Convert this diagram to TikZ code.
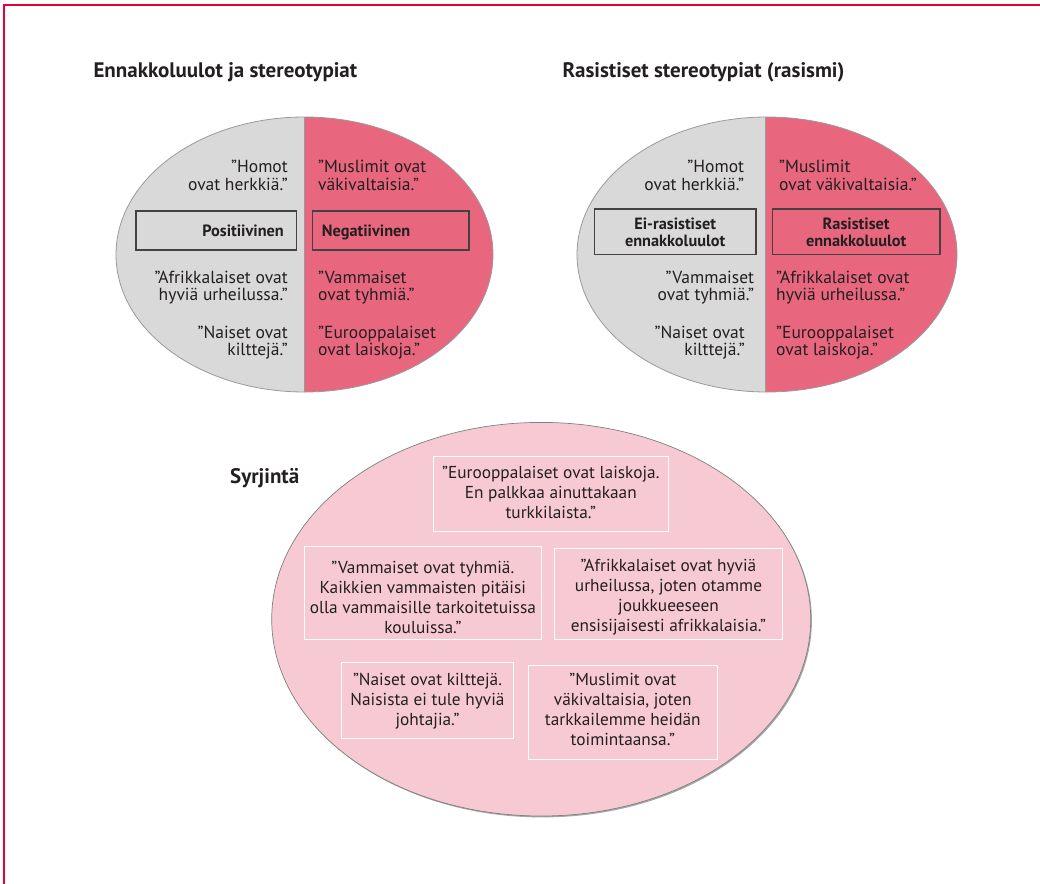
\documentclass[tikz,border=0pt]{standalone}
\usepackage{fontspec}
\setmainfont{PT Sans}
\definecolor{framered}{HTML}{E4003B}
\definecolor{hgray}{HTML}{D9D9D9}
\definecolor{hpink}{HTML}{E9677E}
\definecolor{lpink}{HTML}{F7CAD3}
\definecolor{txt}{HTML}{231F20}
\definecolor{outl}{HTML}{9A9A9A}
\newcommand{\qlines}[2]{\begin{tabular}[t]{@{}#1@{}}#2\end{tabular}}
\begin{document}
\begin{tikzpicture}[x=1pt,y=-1pt,
  heading/.style={font=\bfseries\fontsize{21}{22}\selectfont, anchor=base west, inner sep=0, text=txt},
  q/.style={font=\fontsize{17.5}{16.7}\selectfont, inner sep=0, text=txt},
  qr/.style={q, anchor=base east},
  ql/.style={q, anchor=base west},
  labbox/.style={draw=txt!85, line width=1.1pt, inner sep=0},
  labtext/.style={font=\bfseries\fontsize{16.3}{16.7}\selectfont, inner sep=0, text=txt},
  dbox/.style={draw=white, line width=0.9pt, inner sep=0},
  dtext/.style={font=\fontsize{17.3}{20}\selectfont, anchor=base, inner sep=0, text=txt}]
\useasboundingbox (0,0) rectangle (1040,883);
% frame
\draw[framered, line width=1.6pt] (4,884) -- (4,5) -- (1041,5);

% titles
\node[heading] (t1) at (93.3,77) {Ennakkoluulot ja stereotypiat};
\node[heading] (t2) at (562.3,77) {Rasistiset stereotypiat (rasismi)};
\node[heading] (t3) at (230,483.3) {Syrjintä};

% ellipse 1
\begin{scope}
\clip (304.5,254.5) ellipse (188.5 and 137.5);
\fill[hgray] (110,110) rectangle (304,400);
\fill[hpink] (304,110) rectangle (500,400);
\draw[outl, line width=0.6pt] (304,110) -- (304,400);
\end{scope}
\draw[outl, line width=0.8pt] (304.5,254.5) ellipse (188.5 and 137.5);

% ellipse 2
\begin{scope}
\clip (767,254.5) ellipse (190 and 137.5);
\fill[hgray] (570,110) rectangle (765,400);
\fill[hpink] (765,110) rectangle (965,400);
\draw[outl, line width=0.6pt] (765,110) -- (765,400);
\end{scope}
\draw[outl, line width=0.8pt] (767,254.5) ellipse (190 and 137.5);

% ellipse 1 texts
\node[qr] (a1) at (288,172.7) {\qlines{r}{”Homot\\ovat herkkiä.”}};
\node[qr] (a2) at (288,283.3) {\qlines{r}{”Afrikkalaiset ovat\\hyviä urheilussa.”}};
\node[qr] (a3) at (288,338.3) {\qlines{r}{”Naiset ovat\\kilttejä.”}};
\node[ql] (a4) at (318,172.7) {\qlines{l}{”Muslimit ovat\\väkivaltaisia.”}};
\node[ql] (a5) at (318,283.3) {\qlines{l}{”Vammaiset\\ovat tyhmiä.”}};
\node[ql] (a6) at (318,338.3) {\qlines{l}{”Eurooppalaiset\\ovat laiskoja.”}};
\node[labbox, minimum width=160.7pt, minimum height=39pt] (pos) at (216.35,230.5) {};
\node[labtext, anchor=base east] (post) at (284,236) {Positiivinen};
\node[labbox, minimum width=156.7pt, minimum height=39pt] (neg) at (390.65,230.5) {};
\node[labtext, anchor=base west] (negt) at (321.7,236) {Negatiivinen};

% ellipse 2 texts
\node[qr] (c1) at (744.3,172.7) {\qlines{r}{”Homot\\ovat herkkiä.”}};
\node[qr] (c2) at (754.3,283.3) {\qlines{r}{”Vammaiset\\ovat tyhmiä.”}};
\node[qr] (c3) at (745,338.3) {\qlines{r}{”Naiset ovat\\kilttejä.”}};
\node[ql] (c4) at (779,172.7) {\qlines{l}{”Muslimit\\ovat väkivaltaisia.”}};
\node[ql] (c5) at (776,283.3) {\qlines{l}{”Afrikkalaiset ovat\\hyviä urheilussa.”}};
\node[ql] (c6) at (776,338.3) {\qlines{l}{”Eurooppalaiset\\ovat laiskoja.”}};
\node[labbox, minimum width=161.7pt, minimum height=45.3pt] (eir) at (675.15,231.65) {};
\node[labtext, anchor=base] (eirt) at (675.15,229.3) {\qlines{c}{Ei-rasistiset\\ennakkoluulot}};
\node[labbox, minimum width=167.7pt, minimum height=45.3pt] (ras) at (856.15,231.65) {};
\node[labtext, anchor=base] (rast) at (856.15,229.3) {\qlines{c}{Rasistiset\\ennakkoluulot}};

% bottom ellipse
\fill[black!35] (542.4,620.6) ellipse (269.5 and 196.8);
\fill[lpink] (541.2,619.2) ellipse (269.5 and 196.8);
\draw[black!50, line width=0.7pt] (541.2,619.2) ellipse (269.5 and 196.8);

\node[dbox, minimum width=235pt, minimum height=75pt] (b1) at (550.8,494.2) {};
\node[dtext] (d1) at (550.8,478.3) {\qlines{c}{”Eurooppalaiset ovat laiskoja.\\En palkkaa ainuttakaan\\turkkilaista.”}};
\node[dbox, minimum width=237.7pt, minimum height=92.3pt] (b2) at (422.85,592.85) {};
\node[dtext] (d2) at (422.85,573.3) {\qlines{c}{”Vammaiset ovat tyhmiä.\\Kaikkien vammaisten pitäisi\\olla vammaisille tarkoitetuissa\\kouluissa.”}};
\node[dbox, minimum width=228.4pt, minimum height=91pt] (b3) at (668.5,593.8) {};
\node[dtext] (d3) at (668.5,571.7) {\qlines{c}{”Afrikkalaiset ovat hyviä\\urheilussa, joten otamme\\joukkueeseen\\ensisijaisesti afrikkalaisia.”}};
\node[dbox, minimum width=171.6pt, minimum height=76pt] (b4) at (427.5,700.3) {};
\node[dtext] (d4) at (427.5,685) {\qlines{c}{”Naiset ovat kilttejä.\\Naisista ei tule hyviä\\johtajia.”}};
\node[dbox, minimum width=189pt, minimum height=94pt] (b5) at (622.8,712) {};
\node[dtext] (d5) at (622.8,685) {\qlines{c}{”Muslimit ovat\\väkivaltaisia, joten\\tarkkailemme heidän\\toimintaansa.”}};
\end{tikzpicture}
\end{document}
